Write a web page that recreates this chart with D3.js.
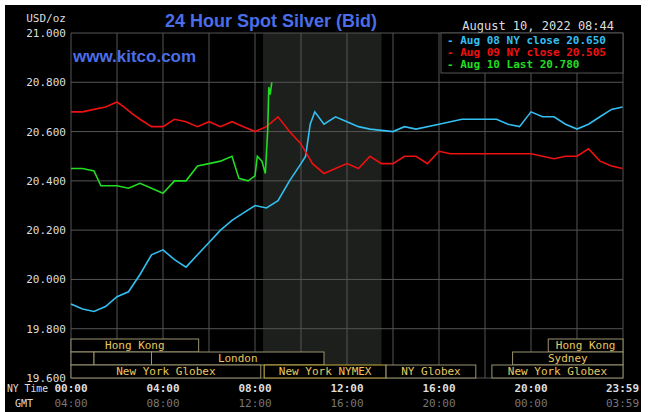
<!DOCTYPE html>
<html><head><meta charset="utf-8">
<script src="https://cdn.jsdelivr.net/npm/d3@7"></script>
<style>
body{margin:0;background:#fff}
svg{display:block}
.mono{font-family:"DejaVu Sans Mono",monospace;font-size:11px}
</style></head><body>
<svg id="c" width="651" height="412"></svg>
<script>
// hours since NY midnight, price
const aug08 = [[0,19.90],[0.5,19.88],[1,19.87],[1.5,19.89],[2,19.93],[2.5,19.95],[3,20.02],[3.5,20.10],[4,20.12],[4.5,20.08],[5,20.05],[5.5,20.10],[6,20.15],[6.5,20.20],[7,20.24],[7.5,20.27],[8,20.30],[8.5,20.29],[9,20.32],[9.5,20.40],[10,20.47],[10.2,20.50],[10.4,20.63],[10.6,20.68],[11,20.63],[11.5,20.66],[12,20.64],[12.5,20.62],[13,20.61],[14,20.60],[14.5,20.62],[15,20.61],[16,20.63],[16.5,20.64],[17,20.65],[18,20.65],[18.5,20.65],[19,20.63],[19.5,20.62],[20,20.68],[20.5,20.66],[21,20.66],[21.5,20.63],[22,20.61],[22.5,20.63],[23,20.66],[23.5,20.69],[23.98,20.70]]
const aug09 = [[0,20.68],[0.5,20.68],[1,20.69],[1.5,20.70],[2,20.72],[2.3,20.70],[2.7,20.67],[3,20.65],[3.5,20.62],[4,20.62],[4.5,20.65],[5,20.64],[5.5,20.62],[6,20.64],[6.5,20.62],[7,20.64],[7.5,20.62],[8,20.60],[8.5,20.62],[9,20.66],[9.5,20.60],[10,20.55],[10.5,20.47],[11,20.43],[11.5,20.45],[12,20.47],[12.5,20.45],[13,20.50],[13.5,20.47],[14,20.47],[14.5,20.50],[15,20.50],[15.5,20.47],[16,20.52],[16.5,20.51],[17,20.51],[18,20.51],[19,20.51],[20,20.51],[20.5,20.50],[21,20.49],[21.5,20.50],[22,20.50],[22.5,20.53],[23,20.48],[23.5,20.46],[23.98,20.45]]
const aug10 = [[0,20.45],[0.5,20.45],[1,20.44],[1.3,20.38],[2,20.38],[2.5,20.37],[3,20.39],[3.5,20.37],[4,20.35],[4.5,20.40],[5,20.40],[5.5,20.46],[6,20.47],[6.5,20.48],[7,20.50],[7.3,20.41],[7.7,20.40],[8,20.42],[8.1,20.50],[8.3,20.48],[8.45,20.43],[8.55,20.60],[8.6,20.78],[8.66,20.75],[8.73,20.80]]

const yTicks = [19.6, 19.8, 20.0, 20.2, 20.4, 20.6, 20.8, 21.0]
const xTicks = [0, 4, 8, 12, 16, 20, 23.98]
const nyLabels = ['00:00', '04:00', '08:00', '12:00', '16:00', '20:00', '23:59']
const gmtLabels = ['04:00', '08:00', '12:00', '16:00', '20:00', '00:00', '03:59']
const legendLabels = ['Aug 08 NY close 20.650', 'Aug 09 NY close 20.505', 'Aug 10 Last 20.780']
const colors = ['#33bff0', '#ee1111', '#22dd22']
// [row, start, end, label]
const sessions = [[0,0,5.55,'Hong Kong'],[0,20.75,24,'Hong Kong'],[1,0,1,''],[1,1,3.5,''],[1,3.5,11,'London'],[1,19.2,24,'Sydney'],
  [2,0,8.25,'New York Globex'],[2,8.4,13.7,'New York NYMEX'],[2,13.7,17.6,'NY Globex'],[2,18.3,24,'New York Globex']]

const svg = d3.select('#c')
svg.append('rect').attr('x', 5).attr('y', 5).attr('width', 636).attr('height', 407).attr('fill', '#000')

const x = d3.scaleLinear().domain([0, 24]).range([71, 623])
const y = d3.scaleLinear().domain([19.6, 21.0]).range([378, 33])

// nymex shade
svg.append('rect').attr('x', x(8.35)).attr('y', y(21)).attr('width', x(13.5) - x(8.35)).attr('height', y(19.6) - y(21)).attr('fill', '#1c1f1c')

const g = svg.append('g')
g.selectAll('.h').data(yTicks).join('line').attr('x1', x(0)).attr('x2', x(24)).attr('y1', d => y(d)).attr('y2', d => y(d)).attr('stroke', '#555')
g.selectAll('.v').data(d3.range(0, 25, 2)).join('line').attr('y1', y(21)).attr('y2', y(19.6)).attr('x1', d => x(d)).attr('x2', d => x(d)).attr('stroke', '#555')

svg.selectAll('.yl').data(yTicks).join('text').attr('class', 'mono').attr('x', 66).attr('y', d => y(d) + 4)
  .attr('text-anchor', 'end').attr('fill', '#ddd').text(d => d3.format(',.3f')(d))
svg.append('text').attr('class', 'mono').attr('x', 66).attr('y', 22).attr('text-anchor', 'end').attr('fill', '#ddd').text('USD/oz')

// sessions
const rowH = 13
sessions.forEach(([r, a, b, lab]) => {
  const top = 339 + r * rowH
  svg.append('rect').attr('x', x(a)).attr('y', top).attr('width', x(b) - x(a)).attr('height', rowH)
    .attr('fill', '#000').attr('stroke', lab === 'New York NYMEX' ? '#c8b040' : '#9a9470')
  if (lab) svg.append('text').attr('class', 'mono').attr('x', (x(a) + x(b)) / 2).attr('y', top + 10)
    .attr('text-anchor', 'middle').attr('fill', '#e8c860').text(lab)
})

const line = d3.line().x(d => x(d[0])).y(d => y(d[1]))
;[aug08, aug09, aug10].forEach((s, i) => {
  svg.append('path').datum(s).attr('d', line).attr('fill', 'none').attr('stroke', colors[i]).attr('stroke-width', 1.6)
})

// x labels
svg.selectAll('.xl').data(xTicks).join('text').attr('class', 'mono').attr('x', d => x(d)).attr('y', 392)
  .attr('text-anchor', 'middle').attr('fill', '#ddd').style('font-weight', 'bold').text((d, i) => nyLabels[i])
svg.selectAll('.gl').data(xTicks).join('text').attr('class', 'mono').attr('x', d => x(d)).attr('y', 407)
  .attr('text-anchor', 'middle').attr('fill', '#777').text((d, i) => gmtLabels[i])
svg.append('text').attr('class', 'mono').attr('x', 7).attr('y', 392).attr('fill', '#ddd')
  .attr('textLength', 41).attr('lengthAdjust', 'spacingAndGlyphs').style('font-size', '10px').text('NY Time')
svg.append('text').attr('class', 'mono').attr('x', 15).attr('y', 407).attr('fill', '#ddd').style('font-size', '10px').text('GMT')

// titles
svg.append('text').attr('x', 271).attr('y', 27).attr('text-anchor', 'middle').attr('fill', '#4a6ee8')
  .style('font', 'bold 18px "Liberation Sans", Arial').text('24 Hour Spot Silver (Bid)')
svg.append('text').attr('x', 73).attr('y', 62).attr('fill', '#4a6ee8')
  .style('font', 'bold 17px "Liberation Sans", Arial').text('www.kitco.com')
svg.append('text').attr('class', 'mono').attr('x', 614).attr('y', 30).attr('text-anchor', 'end').attr('fill', '#ddd')
  .style('font-size', '12px').text('August 10, 2022 08:44')

// legend
svg.append('rect').attr('x', 441).attr('y', 33).attr('width', 182).attr('height', 40).attr('fill', '#000').attr('stroke', '#555')
legendLabels.forEach((t, i) => {
  svg.append('text').attr('class', 'mono').attr('x', 447).attr('y', 44 + i * 12).attr('fill', colors[i])
    .style('font-weight', 'bold').text('- ' + t)
})
</script></body></html>
